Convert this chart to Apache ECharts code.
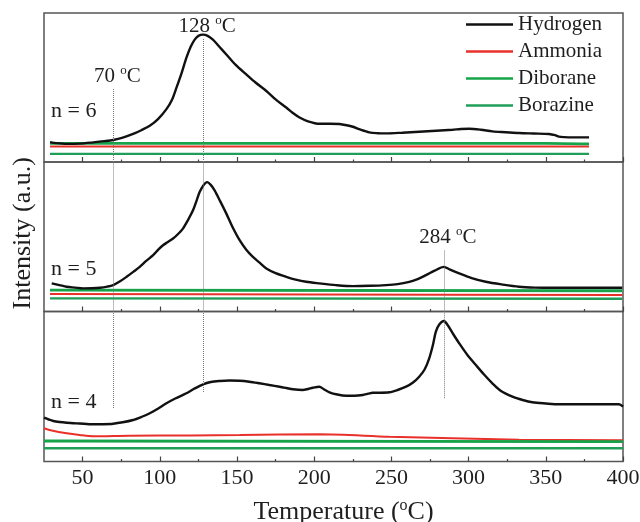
<!DOCTYPE html>
<html>
<head>
<meta charset="utf-8">
<script src="https://cdn.jsdelivr.net/npm/echarts@6/dist/echarts.min.js"></script>
<style>
  html, body { margin: 0; padding: 0; background: #fff; }
  #chart { width: 640px; height: 522px; }
</style>
</head>
<body>
<div id="chart"></div>
<script>
const FONT = '"Liberation Serif", "Times New Roman", serif';

// Temperature axis ticks (°C)
const majorTicks = [50, 100, 150, 200, 250, 300, 350, 400];
const minorTicks = [75, 125, 175, 225, 275, 325, 375];

const panelLabels = ['n = 6', 'n = 5', 'n = 4'];
const seriesNames = ['Hydrogen', 'Ammonia', 'Diborane', 'Borazine'];
const markedTemps = [70, 128, 284];

// Mass-spec traces, [temperature °C, intensity a.u.]
// n = 6
const hydrogen6 = [[28.9,20],[33,19],[39.7,18.2],[48,18.5],[56.9,19.8],[64,21],[69.8,22.2],[76,24.5],[82.7,28.2],[88,32],[93.5,36.5],[99,43.5],[104.3,53.2],[108,63],[110.8,74.8],[114,89],[117.2,104.8],[120,116],[122.6,123.2],[125,127],[128,128.2],[131,127],[134.4,123.2],[138,117],[143.1,108.2],[149,98],[156,88.2],[162,80],[169,71.5],[175,63],[181.9,54.8],[186,49.5],[190.5,44.8],[196,41],[203.4,38.5],[210,38.5],[216.3,38.2],[221,37],[225,35.5],[230,32.5],[235.7,29.8],[241,29],[246.5,28.8],[257,29.5],[268,30.5],[279,31.5],[289.6,32.5],[295,33.2],[300.4,33.5],[308,32.5],[315.4,30.8],[324,30],[332.7,29.2],[342,28.7],[352,28.2],[356,27],[358.5,25.5],[362,25],[367.1,24.8],[378,24.8]];
const ammonia6 = [[28.9,15.5],[378,15.5]];
const diborane6 = [[28.9,18.8],[350,18.8],[378,18.3]];
const borazine6 = [[28.9,8.2],[378,8.2]];

// n = 5
const hydrogen5 = [[30,28.2],[35,26.5],[39.7,24.8],[45,24],[50.4,23.2],[56,23.3],[61.2,23.8],[66,25],[69.8,26.5],[74,30],[78.5,34.8],[83,40],[87,44.8],[91,50.5],[95.7,56.5],[99,62],[102.1,66.5],[105,69.5],[108.6,73.2],[112,78],[115,83.2],[118,91],[121.5,101.5],[124,112],[125.8,119.8],[128,126],[130.6,129.8],[133,127],[135.5,121.5],[139,111],[143.1,98.2],[147,85],[151.7,71.5],[156,62],[160.3,54.8],[165,48.5],[169,43.2],[175,38.5],[181.9,34.8],[188,32],[194.8,29.8],[203.4,28.2],[214,26.5],[225,25.5],[236,25.8],[246.5,26.5],[254,27.5],[261.6,29.8],[267,32.5],[272.4,36.5],[278,41],[284,44.8],[288,42],[293.9,38.2],[302,33.5],[311.1,29.8],[322,27],[332.7,24.8],[343,24],[354.2,23.8],[370,23.8],[385,23.8],[399.5,23.8]];
const ammonia5 = [[28.9,17.5],[200,17],[399.5,16.5]];
const diborane5 = [[28.9,21.5],[399.5,20.8]];
const borazine5 = [[28.9,13.2],[399.5,12.8]];

// n = 4
const hydrogen4 = [[25,43.8],[28,42],[31,40.5],[35,39.5],[39.7,38.8],[48,38],[56.9,37.2],[63,37.3],[69.8,37.8],[76,39.2],[82.7,41.5],[88,44.5],[93.5,48.2],[99,53],[104.3,58.2],[110,63],[117.2,68.2],[122,72.5],[128,77.2],[133,79.5],[138.8,80.5],[145,81],[151.7,80.8],[158,79.8],[164.6,78.2],[171,76.5],[177.6,74.8],[182,73.5],[186.2,72.2],[192.6,71.5],[196,72.5],[199.1,73.8],[203.4,74.8],[206,72.5],[209.9,69.2],[215,67],[220.7,65.8],[226,65.8],[231.4,66.5],[235,67.8],[237.9,68.8],[243,68.8],[248.7,69.2],[254,71.5],[259.5,74.8],[264,79],[268,84.8],[271.5,92],[274.5,103.2],[276.8,116],[278.8,129.8],[281,137],[284,140.5],[286.4,136.5],[290,127.5],[293.9,118.2],[299,107],[304.7,96.5],[310,87],[315.4,78.2],[321,70.5],[328.4,64.8],[335,61.5],[341.3,59.2],[350,58],[358.5,57.2],[367,57.2],[375.8,57.2],[387,57.2],[397.4,57.2],[400,54.8]];
const ammonia4 = [[25,33.2],[30,31],[39.7,28.2],[48,26.5],[56.9,25.2],[80,25.8],[120,26],[151.7,26.5],[203,27.3],[248.7,24.8],[289.6,23.2],[332.7,21.8],[400,21.2]];
const diborane4 = [[25,20.5],[400,19.8]];
const borazine4 = [[25,13.2],[400,13.2]];

const panels = [
  [hydrogen6, ammonia6, diborane6, borazine6],
  [hydrogen5, ammonia5, diborane5, borazine5],
  [hydrogen4, ammonia4, diborane4, borazine4]
];

// Vertical guide segments per panel: [temperature, y top, y bottom, show label]
const guides = [
  [[markedTemps[0], 74.5, 0, true], [markedTemps[1], 124.8, 0, true]],
  [[markedTemps[0], 150, 0, false], [markedTemps[1], 150, 0, false], [markedTemps[2], 62.2, 0, true]],
  [[markedTemps[0], 150, 53.5, false], [markedTemps[1], 150, 69.5, false], [markedTemps[2], 150, 63.2, false]]
];

const colors = { Hydrogen: '#111111', Ammonia: '#e8312b', Diborane: '#16a34a', Borazine: '#1f9e58' };
const widths = { Hydrogen: 2.4, Ammonia: 2, Diborane: 2.8, Borazine: 2.4 };
const TEXT = '#1e1e1e';
// small raised "o" used for the degree mark (bottom padding lifts it)
const supStyle = { fontSize: 13, fontFamily: FONT, color: TEXT, padding: [0, 0, 11, 0] };

const gridBoxes = [
  { top: 13, height: 149 },
  { top: 162, height: 149.5 },
  { top: 311.5, height: 150 }
];

const grid = gridBoxes.map(g => ({
  left: 44, right: 17, top: g.top, height: g.height,
  outerBoundsMode: 'none', containLabel: false,
  show: true, borderColor: '#555', borderWidth: 1.5, backgroundColor: 'transparent'
}));

const xAxis = [];
const yAxis = [];
gridBoxes.forEach((g, i) => {
  const last = i === gridBoxes.length - 1;
  xAxis.push({
    type: 'value', gridIndex: i, min: 25, max: 400, position: 'bottom',
    axisLine: { show: false },
    axisTick: { show: true, inside: true, length: 5, customValues: majorTicks, lineStyle: { color: '#444', width: 1.2 } },
    axisLabel: { show: last, customValues: majorTicks, fontSize: 22, fontFamily: FONT, color: TEXT, margin: 6 },
    splitLine: { show: false },
    name: last ? 'Temperature ({s|o}C)' : '',
    nameLocation: 'middle', nameGap: 36,
    nameTextStyle: { fontSize: 26, fontFamily: FONT, color: TEXT, padding: [0, 0, 0, 20],
                     rich: { s: { ...supStyle, fontSize: 16, padding: [0, 0, 14, 0] } } }
  });
  xAxis.push({
    type: 'value', gridIndex: i, min: 25, max: 400, position: 'bottom',
    axisLine: { show: false },
    axisTick: { show: true, inside: true, length: 2.5, customValues: minorTicks, lineStyle: { color: '#444', width: 1.2 } },
    axisLabel: { show: false },
    splitLine: { show: false }
  });
  yAxis.push({
    type: 'value', gridIndex: i, min: 0, max: 150,
    axisLine: { show: false }, axisTick: { show: false }, axisLabel: { show: false }, splitLine: { show: false },
    name: i === 1 ? 'Intensity (a.u.)' : '',
    nameLocation: 'middle', nameGap: 8, nameRotate: 90,
    nameTextStyle: { fontSize: 26, fontFamily: FONT, color: TEXT, padding: [0, 0, 0, 7] }
  });
});

const series = [];
panels.forEach((traces, i) => {
  // draw the flat traces first so hydrogen sits on top
  [1, 2, 3, 0].forEach(k => {
    const name = seriesNames[k];
    const s = {
      name, type: 'line', xAxisIndex: i * 2, yAxisIndex: i,
      data: traces[k], symbol: 'none', smooth: 0.3,
      lineStyle: { color: colors[name], width: widths[name] },
      itemStyle: { color: colors[name] },
      z: k === 0 ? 4 : 3
    };
    if (k === 0) {
      s.markLine = {
        silent: true, symbol: ['none', 'none'], animation: false,
        lineStyle: { type: 'dotted', color: '#7a7a7a', width: 1 },
        data: guides[i].map(([t, top, bot, lab]) => [
          { coord: [t, bot],
            label: { show: lab, position: 'end', distance: 0, offset: [4, 0],
                     formatter: t + ' {s|o}C', fontSize: 21, fontFamily: FONT, color: TEXT,
                     rich: { s: supStyle } } },
          { coord: [t, top] }
        ])
      };
    }
    series.push(s);
  });
});

const labelY = [112, 270, 403];
const graphic = panelLabels.map((txt, i) => ({
  type: 'text', left: 51, top: labelY[i] - 12,
  style: { text: txt, font: '22px ' + FONT, fill: TEXT }
}));

const chart = echarts.init(document.getElementById('chart'), null, { renderer: 'canvas' });
chart.setOption({
  animation: false,
  backgroundColor: '#fff',
  grid, xAxis, yAxis, series, graphic,
  legend: {
    data: seriesNames, orient: 'vertical', left: 466, top: 13.5, padding: 0,
    icon: 'rect', itemWidth: 47, itemHeight: 2.5, itemGap: 5,
    textStyle: { fontSize: 21, fontFamily: FONT, color: TEXT, lineHeight: 22 }
  }
});
</script>
</body>
</html>
